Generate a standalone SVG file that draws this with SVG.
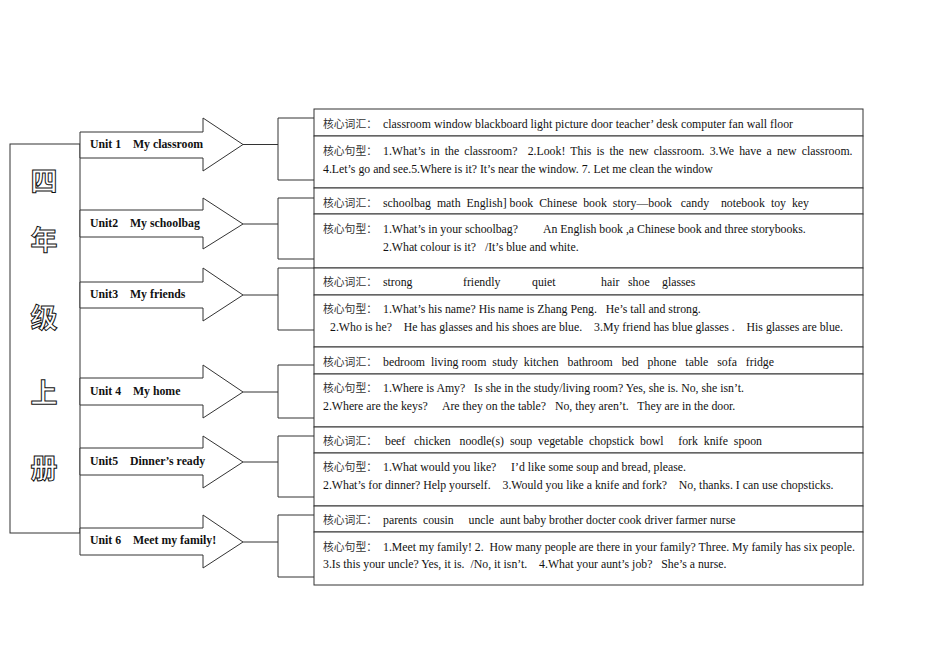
<svg xmlns="http://www.w3.org/2000/svg" width="950" height="672" viewBox="0 0 950 672">
<style>
.ln{fill:none;stroke:#333;stroke-width:1}
.ar{fill:#fff;stroke:#333;stroke-width:1}
.bx{fill:#fff;stroke:#333;stroke-width:1}
.t{font-family:"Liberation Serif","Noto Sans CJK SC",serif;font-size:11.8px;fill:#111}
.u{font-family:"Liberation Serif","Noto Sans CJK SC",serif;font-size:11.8px;font-weight:bold;fill:#111}
.c{font-family:"Noto Sans CJK SC",sans-serif;font-size:10.8px;fill:#333}
.big{font-family:"Noto Sans CJK SC",sans-serif;font-size:27px;font-weight:bold;fill:#fff;stroke:#111;stroke-width:1;text-anchor:middle}
</style>
<rect width="950" height="672" fill="#fff"/>
<g id="title">
<rect x="10" y="144" width="70" height="389" class="ln"/>
<text x="44" y="191" class="big">四</text>
<text x="44" y="250" class="big">年</text>
<text x="44" y="328" class="big">级</text>
<text x="44" y="403" class="big">上</text>
<text x="44" y="478" class="big">册</text>
</g>
<g id="connectors">
<path class="ln" d="M243,144.5H278M278,118V180H314M278,118H314"/>
<path class="ln" d="M243,224H278M278,198V259H314M278,198H314"/>
<path class="ln" d="M243,295H278M278,268V330H314M278,268H314"/>
<path class="ln" d="M243,392H278M278,365V418H314M278,365H314"/>
<path class="ln" d="M243,462H278M278,436V497H314M278,436H314"/>
<path class="ln" d="M243,542H278M278,515V577H314M278,515H314"/>
</g>
<g id="unit1">
<path class="ar" d="M80,132H203V118L243,144.5L203,171V158H80Z"/>
<text x="90" y="148" class="u" xml:space="preserve">Unit 1    My classroom</text>
</g>
<g id="unit2">
<path class="ar" d="M80,210H203V198L243,224L203,249V237H80Z"/>
<text x="90" y="227" class="u" xml:space="preserve">Unit2    My schoolbag</text>
</g>
<g id="unit3">
<path class="ar" d="M80,282H203V268L243,295L203,321V308H80Z"/>
<text x="90" y="298" class="u" xml:space="preserve">Unit3    My friends</text>
</g>
<g id="unit4">
<path class="ar" d="M80,378H203V365L243,392L203,418V405H80Z"/>
<text x="90" y="395" class="u" xml:space="preserve">Unit 4    My home</text>
</g>
<g id="unit5">
<path class="ar" d="M80,448H203V436L243,462L203,488V475H80Z"/>
<text x="90" y="465" class="u" xml:space="preserve">Unit5    Dinner’s ready</text>
</g>
<g id="unit6">
<path class="ar" d="M80,528H203V515L243,542L203,568V555H80Z"/>
<text x="90" y="544" class="u" xml:space="preserve">Unit 6    Meet my family!</text>
</g>
<g id="box1">
<rect x="314" y="109" width="549" height="27" class="bx"/>
<rect x="314" y="136" width="549" height="52" class="bx"/>
<text y="128" class="t"><tspan x="323" class="c">核心词汇：</tspan><tspan x="383" textLength="410" lengthAdjust="spacing">classroom window blackboard light picture door teacher’ desk computer fan wall floor</tspan></text>
<text y="155" class="t"><tspan x="323" class="c">核心句型：</tspan><tspan x="383" word-spacing="2.2" xml:space="preserve">1.What’s in the classroom?  2.Look! This is the new classroom. 3.We have a new classroom.</tspan></text>
<text y="173" class="t" x="323">4.Let’s go and see.5.Where is it? It’s near the window. 7. Let me clean the window</text>
</g>
<g id="box2">
<rect x="314" y="188" width="549" height="26" class="bx"/>
<rect x="314" y="214" width="549" height="54" class="bx"/>
<text y="207" class="t"><tspan x="323" class="c">核心词汇：</tspan><tspan x="383" textLength="426" lengthAdjust="spacing" xml:space="preserve">schoolbag  math  English] book  Chinese  book  story—book   candy    notebook  toy  key</tspan></text>
<text y="233" class="t"><tspan x="323" class="c">核心句型：</tspan><tspan x="383">1.What’s in your schoolbag?</tspan><tspan x="543">An English book ,a Chinese book and three storybooks.</tspan></text>
<text y="251" class="t" x="383" xml:space="preserve">2.What colour is it?   /It’s blue and white.</text>
</g>
<g id="box3">
<rect x="314" y="268" width="549" height="27" class="bx"/>
<rect x="314" y="295" width="549" height="52" class="bx"/>
<text y="286" class="t"><tspan x="323" class="c">核心词汇：</tspan><tspan x="383">strong</tspan><tspan x="463">friendly</tspan><tspan x="532">quiet</tspan><tspan x="601">hair</tspan><tspan x="628">shoe</tspan><tspan x="662">glasses</tspan></text>
<text y="313" class="t"><tspan x="323" class="c">核心句型：</tspan><tspan x="383" xml:space="preserve">1.What’s his name? His name is Zhang Peng.   He’s tall and strong.</tspan></text>
<text y="331" class="t" x="330" textLength="513" lengthAdjust="spacing" xml:space="preserve">2.Who is he?    He has glasses and his shoes are blue.    3.My friend has blue glasses .    His glasses are blue.</text>
</g>
<g id="box4">
<rect x="314" y="347" width="549" height="27" class="bx"/>
<rect x="314" y="374" width="549" height="53" class="bx"/>
<text y="366" class="t"><tspan x="323" class="c">核心词汇：</tspan><tspan x="383" textLength="391" lengthAdjust="spacing" xml:space="preserve">bedroom  living room  study  kitchen   bathroom   bed   phone   table   sofa   fridge</tspan></text>
<text y="392" class="t"><tspan x="323" class="c">核心句型：</tspan><tspan x="383" xml:space="preserve">1.Where is Amy?   Is she in the study/living room? Yes, she is. No, she isn’t.</tspan></text>
<text y="410" class="t" x="323" xml:space="preserve">2.Where are the keys?     Are they on the table?   No, they aren’t.   They are in the door.</text>
</g>
<g id="box5">
<rect x="314" y="427" width="549" height="26" class="bx"/>
<rect x="314" y="453" width="549" height="53" class="bx"/>
<text y="445" class="t"><tspan x="323" class="c">核心词汇：</tspan><tspan x="385" textLength="377" lengthAdjust="spacing" xml:space="preserve">beef   chicken   noodle(s)  soup  vegetable  chopstick  bowl     fork  knife  spoon</tspan></text>
<text y="471" class="t"><tspan x="323" class="c">核心句型：</tspan><tspan x="383" xml:space="preserve">1.What would you like?     I’d like some soup and bread, please.</tspan></text>
<text y="489" class="t" x="323" xml:space="preserve">2.What’s for dinner? Help yourself.    3.Would you like a knife and fork?    No, thanks. I can use chopsticks.</text>
</g>
<g id="box6">
<rect x="314" y="506" width="549" height="26" class="bx"/>
<rect x="314" y="532" width="549" height="53" class="bx"/>
<text y="524" class="t"><tspan x="323" class="c">核心词汇：</tspan><tspan x="383" xml:space="preserve">parents  cousin     uncle  aunt baby brother docter cook driver farmer nurse</tspan></text>
<text y="551" class="t"><tspan x="323" class="c">核心句型：</tspan><tspan x="383" textLength="472" lengthAdjust="spacing" xml:space="preserve">1.Meet my family! 2.  How many people are there in your family? Three. My family has six people.</tspan></text>
<text y="568" class="t" x="323" xml:space="preserve">3.Is this your uncle? Yes, it is.  /No, it isn’t.    4.What your aunt’s job?   She’s a nurse.</text>
</g>
</svg>
